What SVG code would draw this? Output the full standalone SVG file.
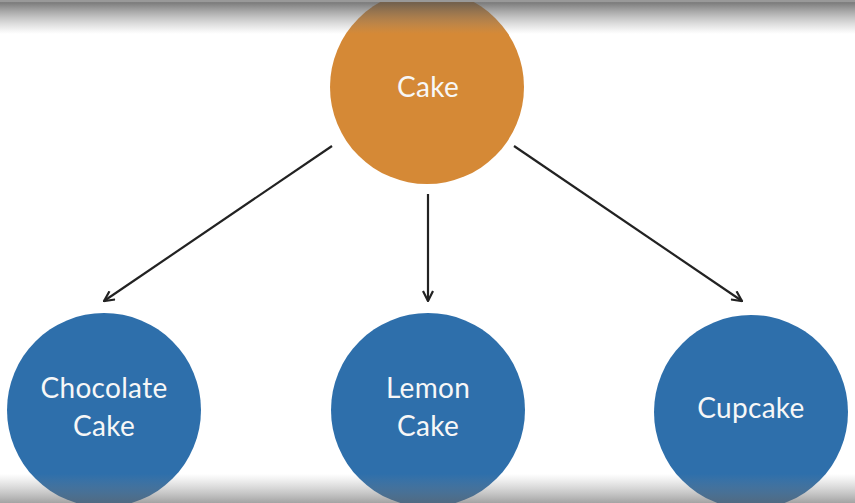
<svg xmlns="http://www.w3.org/2000/svg" width="855" height="503" viewBox="0 0 855 503">
<defs>
<style>
.lbl{font-family:Lato,"Noto Sans",sans-serif;font-size:28px;fill:#f7f7f7;text-anchor:middle;letter-spacing:0.3px}
.orange{fill:#d58936}
.blue{fill:#2e6fab}
.conn{stroke:#222;stroke-width:2.2;fill:none}
</style>
<marker id="arr" viewBox="0 0 12 12" refX="11" refY="6" markerWidth="12" markerHeight="12" markerUnits="userSpaceOnUse" orient="auto">
<path d="M1,1 L11,6 L1,11" fill="none" stroke="#222" stroke-width="2.2"/>
</marker>
<linearGradient id="topg" x1="0" y1="0" x2="0" y2="1">
<stop offset="0" stop-color="#555" stop-opacity="0.75"/>
<stop offset="0.1" stop-color="#555" stop-opacity="0.75"/>
<stop offset="1" stop-color="#888" stop-opacity="0"/>
</linearGradient>
<linearGradient id="botg" x1="0" y1="0" x2="0" y2="1">
<stop offset="0" stop-color="#888" stop-opacity="0"/>
<stop offset="1" stop-color="#666" stop-opacity="0.6"/>
</linearGradient>
</defs>
<rect width="855" height="503" fill="#ffffff"/>
<g id="connectors">
<line class="conn" x1="332" y1="146" x2="104" y2="301" marker-end="url(#arr)"/>
<line class="conn" x1="428" y1="194" x2="428" y2="301" marker-end="url(#arr)"/>
<line class="conn" x1="514" y1="146" x2="742" y2="301" marker-end="url(#arr)"/>
</g>
<g id="node-cake">
<circle class="orange" cx="427" cy="87" r="97"/>
<text class="lbl" x="428" y="97">Cake</text>
</g>
<g id="node-chocolate">
<circle class="blue" cx="104" cy="410" r="97"/>
<text class="lbl" x="104" y="398">Chocolate</text>
<text class="lbl" x="104" y="436">Cake</text>
</g>
<g id="node-lemon">
<circle class="blue" cx="428" cy="410" r="97"/>
<text class="lbl" x="428" y="398">Lemon</text>
<text class="lbl" x="428" y="436">Cake</text>
</g>
<g id="node-cupcake">
<circle class="blue" cx="751" cy="412" r="97"/>
<text class="lbl" x="751" y="418">Cupcake</text>
</g>
<rect x="0" y="0" width="855" height="34" fill="url(#topg)"/>
<rect x="0" y="0" width="855" height="2" fill="#999"/>
<rect x="0" y="474" width="855" height="29" fill="url(#botg)"/>
</svg>
